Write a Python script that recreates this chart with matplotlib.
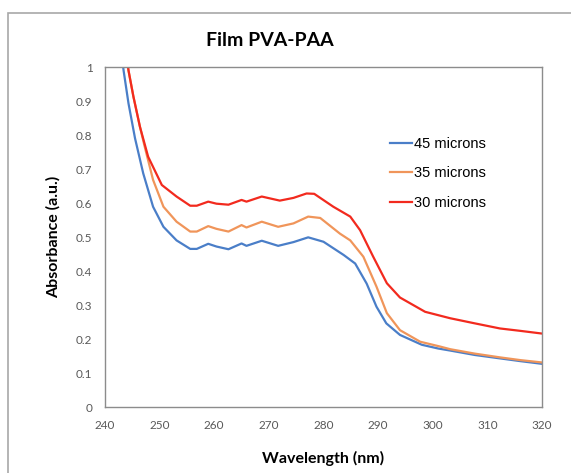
import matplotlib
matplotlib.use("Agg")
import matplotlib.pyplot as plt
from matplotlib.patches import Rectangle

# --- data ---
wl_45 = [242.8, 243.4, 244.3, 245.5, 247.0, 248.8, 250.7, 253.1, 255.6, 256.8, 258.9,
         260.4, 262.6, 265.0, 265.9, 268.7, 271.7, 274.5, 277.2, 280.0, 283.7, 285.8,
         287.9, 289.7, 291.5, 294.0, 298.0, 301.0, 303.2, 307.7, 312.3, 316.0, 320.0]
abs_45 = [1.07, 0.99, 0.893, 0.79, 0.687, 0.589, 0.53, 0.49, 0.465, 0.465, 0.48,
          0.472, 0.464, 0.481, 0.474, 0.489, 0.474, 0.485, 0.499, 0.486, 0.447, 0.422,
          0.363, 0.295, 0.246, 0.212, 0.183, 0.172, 0.166, 0.153, 0.143, 0.135, 0.127]

wl_35 = [243.7, 244.3, 245.2, 246.4, 247.2, 248.8, 250.7, 253.1, 255.6, 256.8, 258.9,
         260.4, 262.6, 265.0, 265.9, 268.7, 271.7, 274.5, 277.2, 279.4, 283.0, 284.9,
         287.3, 289.7, 291.6, 294.0, 297.7, 301.3, 303.2, 307.7, 312.3, 316.0, 320.0]
abs_35 = [1.06, 0.99, 0.913, 0.824, 0.77, 0.668, 0.589, 0.545, 0.516, 0.516, 0.532,
          0.524, 0.516, 0.535, 0.528, 0.545, 0.53, 0.54, 0.56, 0.556, 0.51, 0.49,
          0.442, 0.354, 0.276, 0.226, 0.192, 0.178, 0.17, 0.157, 0.146, 0.138, 0.131]

wl_30 = [243.7, 244.3, 245.2, 246.4, 247.9, 250.4, 253.1, 255.6, 256.8, 258.9, 260.4,
         262.6, 265.0, 265.9, 268.7, 272.0, 274.5, 276.9, 278.3, 281.8, 284.9, 286.7,
         289.1, 291.6, 294.0, 298.6, 303.2, 307.7, 312.3, 316.0, 320.0]
abs_30 = [1.06, 0.99, 0.913, 0.824, 0.736, 0.653, 0.619, 0.592, 0.592, 0.604, 0.598,
          0.595, 0.609, 0.604, 0.619, 0.607, 0.615, 0.628, 0.627, 0.589, 0.56, 0.52,
          0.442, 0.364, 0.322, 0.28, 0.261, 0.246, 0.231, 0.224, 0.216]

labels = ["45 microns", "35 microns", "30 microns"]
colors = ["#4A7EC8", "#F0955A", "#F22A1E"]

W, H = 571, 473
fig = plt.figure(figsize=(W / 100, H / 100), dpi=100)
fig.patch.set_facecolor("white")

# outer chart frame (runs off the right/bottom edge like the reference)
fig.patches.append(Rectangle((8 / W, -0.05), 1.2, (H - 13) / H + 0.05,
                             transform=fig.transFigure, fill=False,
                             edgecolor="#A8A8A8", linewidth=1.2))

ax = fig.add_axes([105 / W, (H - 407) / H, (542 - 105) / W, (407 - 67) / H])

for wl, ab, lab, c in zip([wl_45, wl_35, wl_30], [abs_45, abs_35, abs_30], labels, colors):
    ax.plot(wl, ab, color=c, linewidth=1.6, label=lab, solid_joinstyle="round")

ax.set_xlim(240, 320)
ax.set_ylim(0, 1)
ax.set_xticks(range(240, 321, 10))
ax.set_yticks([i / 10 for i in range(11)])
ax.set_yticklabels(["0"] + ["%.1f" % (i / 10) for i in range(1, 10)] + ["1"])
ax.tick_params(length=0, labelsize=8.5, labelcolor="#595959", pad=9)
for lbl in ax.get_xticklabels() + ax.get_yticklabels():
    lbl.set_family("Lato")
for s in ax.spines.values():
    s.set_color("#8C8C8C")
    s.set_linewidth(1.0)

ax.set_xlabel("Wavelength (nm)", fontsize=11.5, fontweight="bold", family="Lato", labelpad=15)
ax.set_ylabel("Absorbance (a.u.)", fontsize=11.5, fontweight="bold", family="Lato", labelpad=11)
fig.text(270 / W, 1 - 40 / H, "Film PVA-PAA", ha="center", va="center",
         fontsize=14, fontweight="bold", family="Lato")

leg = ax.legend(loc="upper left", bbox_to_anchor=(390 / W, 1 - 137 / H),
                bbox_transform=fig.transFigure, frameon=False,
                prop={"family": "Liberation Sans", "size": 10.5},
                handlelength=1.5, handletextpad=0.15, labelspacing=1.05,
                borderpad=0, borderaxespad=0)

fig.savefig("out.png", dpi=100)
